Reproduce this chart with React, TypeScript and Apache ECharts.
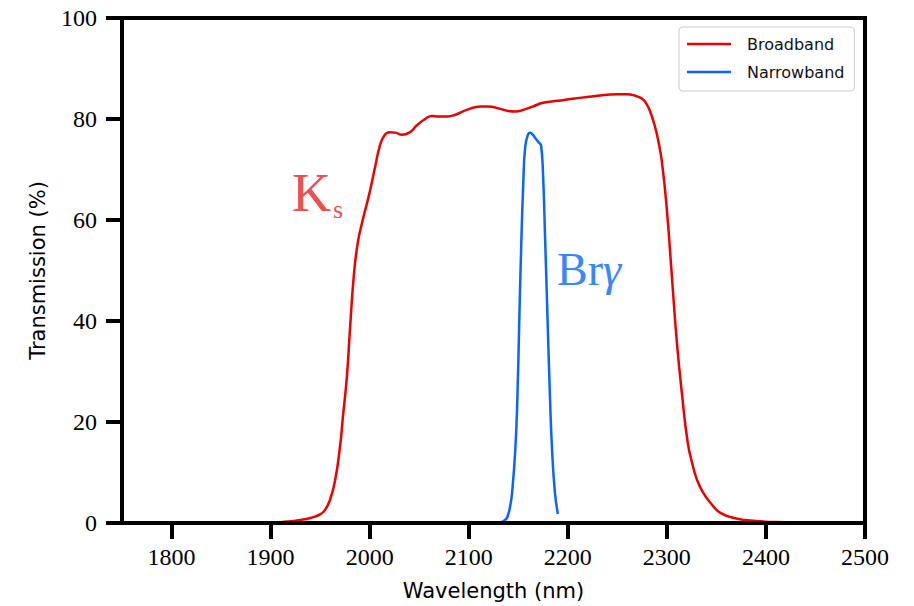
import React, { useEffect, useRef } from "react";
import * as echarts from "echarts";

// Filter transmission curves (wavelength in nm, transmission in %)
const broadbandNm = [
  1900, 1910, 1920, 1930, 1940, 1950, 1955, 1960, 1965, 1970, 1973, 1977, 1980, 1984,
  1988, 1993, 2000, 2006, 2010, 2015, 2020, 2026, 2032, 2040, 2048, 2056, 2063, 2070,
  2078, 2086, 2098, 2112, 2120, 2130, 2140, 2147, 2155, 2165, 2175, 2190, 2205, 2230,
  2250, 2260, 2268, 2275, 2280, 2284, 2288, 2291, 2295, 2300, 2305, 2310, 2315, 2321,
  2326, 2330, 2336, 2344, 2354, 2370, 2390, 2420, 2450,
];
const broadbandPct = [
  0.05, 0.15, 0.35, 0.6, 1.0, 1.7, 2.6, 4.6, 8.3, 15, 21, 29, 38, 49,
  55.5, 60, 65.5, 71, 74.5, 76.8, 77.4, 77.3, 76.9, 77.3, 78.8, 80, 80.6, 80.5,
  80.5, 80.8, 81.8, 82.5, 82.5, 82.1, 81.6, 81.5, 81.8, 82.5, 83.2, 83.6, 84, 84.6,
  84.9, 84.9, 84.6, 84, 82.8, 81, 78.5, 76, 71.5, 62, 49, 36, 26, 16,
  11.5, 8.8, 6.2, 4, 2, 0.9, 0.4, 0.15, 0.05,
];

const narrowbandNm = [
  2128, 2133, 2136, 2139, 2142, 2144, 2147, 2149, 2151, 2153, 2155, 2157, 2160,
  2162, 2165, 2168, 2171, 2173, 2175, 2177, 2179, 2182, 2184, 2187, 2190,
];
const narrowbandPct = [
  0, 0.2, 0.5, 1.2, 3.5, 6.5, 14.5, 24, 40, 55, 67, 74.5, 77,
  77.3, 76.8, 76, 75.3, 74.8, 69, 57, 44, 25, 15, 6, 1.8,
];

const wavelengthTicks = [1800, 1900, 2000, 2100, 2200, 2300, 2400, 2500];
const seriesNames = ["Broadband", "Narrowband"];
const seriesColors = ["#ec0000", "#0a64ff"];

const toPairs = (xs: number[], ys: number[]) => xs.map((x, i) => [x, ys[i]]);

const serifFont = "Liberation Serif";
const sansFont = "DejaVu Sans";

export default function App() {
  const ref = useRef<HTMLDivElement>(null);

  useEffect(() => {
    if (!ref.current) return;
    const chart = echarts.init(ref.current, null, { renderer: "svg" });

    const axisLine = { lineStyle: { color: "#000", width: 4 } };
    const tickStyle = { length: 16, lineStyle: { color: "#000", width: 4 } };
    const labelStyle = {
      fontFamily: serifFont,
      fontSize: 24,
      color: "#000",
      formatter: (v: number) => String(v),
    };
    const nameStyle = { fontFamily: sansFont, fontSize: 21, color: "#000" };

    chart.setOption({
      animation: false,
      backgroundColor: "#fff",
      grid: {
        left: 122,
        right: 49,
        top: 18,
        bottom: 83,
        show: true,
        borderColor: "#000",
        borderWidth: 4,
        backgroundColor: "transparent",
      },
      legend: {
        data: seriesNames,
        orient: "vertical",
        left: 679,
        top: 27,
        padding: [9, 10, 11, 8],
        itemGap: 12,
        itemWidth: 44,
        itemHeight: 2.5,
        icon: "rect",
        borderColor: "#d0d0d0",
        borderWidth: 1.2,
        borderRadius: 4,
        backgroundColor: "#fff",
        textStyle: { fontFamily: sansFont, fontSize: 16, color: "#111", padding: [0, 0, 0, 11] },
      },
      xAxis: {
        type: "value",
        min: 1750,
        max: 2500,
        z: 5,
        axisLine,
        axisTick: { ...tickStyle, customValues: wavelengthTicks },
        axisLabel: { ...labelStyle, margin: 22, customValues: wavelengthTicks },
        splitLine: { show: false },
        name: "Wavelength (nm)",
        nameLocation: "middle",
        nameGap: 57,
        nameTextStyle: nameStyle,
      },
      yAxis: {
        type: "value",
        min: 0,
        max: 100,
        interval: 20,
        z: 5,
        axisLine: { show: true, ...axisLine },
        axisTick: { show: true, ...tickStyle },
        axisLabel: { ...labelStyle, margin: 25 },
        splitLine: { show: false },
        name: "Transmission (%)",
        nameLocation: "middle",
        nameGap: 74,
        nameTextStyle: nameStyle,
      },
      series: [
        {
          name: seriesNames[0],
          type: "line",
          data: toPairs(broadbandNm, broadbandPct),
          symbol: "none",
          smooth: 0.5,
          lineStyle: { color: seriesColors[0], width: 2.5 },
          itemStyle: { color: seriesColors[0] },
        },
        {
          name: seriesNames[1],
          type: "line",
          data: toPairs(narrowbandNm, narrowbandPct),
          symbol: "none",
          smooth: 0.5,
          lineStyle: { color: seriesColors[1], width: 2.5 },
          itemStyle: { color: seriesColors[1] },
        },
      ],
      graphic: [
        {
          type: "text",
          x: 292,
          y: 193,
          style: { text: "K", font: `54px ${serifFont}`, fill: "#ee5050", verticalAlign: "middle" },
        },
        {
          type: "text",
          x: 333,
          y: 209,
          style: { text: "s", font: `26px ${serifFont}`, fill: "#ee5050", verticalAlign: "middle" },
        },
        {
          type: "text",
          x: 557,
          y: 269,
          style: {
            text: "{n|Br}{g|γ}",
            verticalAlign: "middle",
            rich: {
              n: { font: `46px ${serifFont}`, fill: "#3a86ff", color: "#3a86ff" },
              g: { font: `italic 46px ${serifFont}`, fill: "#3a86ff", color: "#3a86ff" },
            },
          },
        },
      ],
    });

    return () => chart.dispose();
  }, []);

  return (
    <div
      ref={ref}
      style={{ position: "fixed", left: 0, top: 0, width: 914, height: 606 }}
    />
  );
}
